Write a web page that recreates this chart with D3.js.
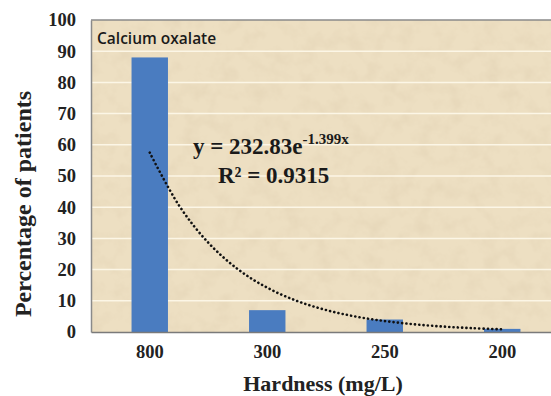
<!DOCTYPE html>
<html>
<head>
<meta charset="utf-8">
<script src="https://cdn.jsdelivr.net/npm/d3@7"></script>
<style>
  body { margin: 0; background: #fff; }
  svg { display: block; }
</style>
</head>
<body>
<div id="chart"></div>
<script>
// data
const categories = ["800", "300", "250", "200"];
const percentages = [88, 7, 4, 1];
const yTicks = [0, 10, 20, 30, 40, 50, 60, 70, 80, 90, 100];
// trendline given on the chart: y = 232.83 e^(-1.399x)
const trendA = 232.83;
const trendB = -1.399;
const trendX = [1, 1.25, 1.5, 1.75, 2, 2.25, 2.5, 2.75, 3, 3.25, 3.5, 3.75, 4];

function drawChart() {
    const W = 551, H = 396;
    const left = 91, top = 20, right = 561, bottom = 332;

    const svg = d3.select("#chart")
        .append("svg")
        .attr("width", W)
        .attr("height", H);

    // paper texture for the plot area
    const defs = svg.append("defs");
    const f = defs.append("filter").attr("id", "paper")
        .attr("x", 0).attr("y", 0).attr("width", 1).attr("height", 1);
    f.append("feTurbulence")
        .attr("type", "fractalNoise")
        .attr("baseFrequency", "0.06")
        .attr("numOctaves", 4)
        .attr("seed", 7);
    f.append("feColorMatrix")
        .attr("type", "matrix")
        .attr("values", "0 0 0 0 0.7  0 0 0 0 0.58  0 0 0 0 0.4  0.7 0 0 0 -0.3");
    defs.append("clipPath").attr("id", "plotClip")
        .append("rect")
        .attr("x", left).attr("y", top)
        .attr("width", right - left).attr("height", bottom - top);

    const x = d3.scaleBand()
        .domain(categories)
        .range([left, right])
        .paddingInner(0.69)
        .paddingOuter(0.345);

    const y = d3.scaleLinear()
        .domain([0, 100])
        .range([bottom, top]);

    // trendline x (1..4) sits on band centres
    const xt = d3.scaleLinear()
        .domain([1, categories.length])
        .range([x(categories[0]) + x.bandwidth() / 2,
                x(categories[categories.length - 1]) + x.bandwidth() / 2]);

    const plot = svg.append("g").attr("clip-path", "url(#plotClip)");
    plot.append("rect")
        .attr("x", left).attr("y", top)
        .attr("width", right - left).attr("height", bottom - top)
        .attr("fill", "#eddfc2");
    plot.append("rect")
        .attr("x", left).attr("y", top)
        .attr("width", right - left).attr("height", bottom - top)
        .attr("filter", "url(#paper)");

    // gridlines
    plot.selectAll(".grid")
        .data(yTicks.filter(d => d > 0 && d < 100))
        .enter()
        .append("line")
        .attr("x1", left).attr("x2", right)
        .attr("y1", d => y(d)).attr("y2", d => y(d))
        .attr("stroke", "#fcf6e6")
        .attr("stroke-width", 1.5);

    // bars
    plot.selectAll(".bar")
        .data(percentages)
        .enter()
        .append("rect")
        .attr("class", "bar")
        .attr("x", (d, i) => x(categories[i]))
        .attr("y", d => y(d))
        .attr("width", x.bandwidth())
        .attr("height", d => bottom - y(d))
        .attr("fill", "#4a7cc0");

    // dotted exponential trendline
    const line = d3.line()
        .x(d => xt(d))
        .y(d => y(trendA * Math.exp(trendB * d)))
        .curve(d3.curveCatmullRom);
    plot.append("path")
        .datum(trendX)
        .attr("d", line)
        .attr("fill", "none")
        .attr("stroke", "#111")
        .attr("stroke-width", 2.6)
        .attr("stroke-linecap", "round")
        .attr("stroke-dasharray", "0.1,4.2");

    // frame lines
    svg.append("line")
        .attr("x1", left).attr("x2", W).attr("y1", top).attr("y2", top)
        .attr("stroke", "#8a8a8a").attr("stroke-width", 1.5);

    const serif = "Liberation Serif, Times New Roman, serif";

    // y axis
    const axisY = d3.axisLeft(y).tickValues(yTicks).tickSize(0).tickPadding(15);
    const gy = svg.append("g")
        .attr("transform", `translate(${left},0)`)
        .call(axisY);
    gy.select(".domain").attr("stroke", "#8a8a8a").attr("stroke-width", 1.5);
    gy.selectAll("text")
        .attr("font-family", serif)
        .attr("font-weight", "bold")
        .attr("font-size", 18.5)
        .attr("fill", "#222");

    // x axis
    const axisX = d3.axisBottom(x).tickSize(0).tickPadding(13);
    const gx = svg.append("g")
        .attr("transform", `translate(0,${bottom})`)
        .call(axisX);
    gx.select(".domain").attr("stroke", "#7a7a7a").attr("stroke-width", 1.5);
    gx.selectAll("text")
        .attr("font-family", serif)
        .attr("font-weight", "bold")
        .attr("font-size", 18.5)
        .attr("fill", "#222");

    // titles
    svg.append("text")
        .attr("x", 323).attr("y", 391)
        .attr("text-anchor", "middle")
        .attr("font-family", serif)
        .attr("font-weight", "bold")
        .attr("font-size", 22)
        .attr("fill", "#222")
        .text("Hardness (mg/L)");

    svg.append("text")
        .attr("transform", "translate(31,204) rotate(-90)")
        .attr("text-anchor", "middle")
        .attr("font-family", serif)
        .attr("font-weight", "bold")
        .attr("font-size", 24)
        .attr("fill", "#222")
        .text("Percentage of patients");

    svg.append("text")
        .attr("x", 97).attr("y", 44)
        .attr("font-family", "Open Sans, sans-serif")
        .attr("font-weight", 600)
        .attr("font-size", 15.5)
        .attr("fill", "#1a1a1a")
        .text("Calcium oxalate");

    // trendline equation
    const eq = svg.append("text")
        .attr("x", 193).attr("y", 154)
        .attr("font-family", serif)
        .attr("font-weight", "bold")
        .attr("font-size", 23)
        .attr("fill", "#1a1a1a");
    eq.append("tspan").text("y = " + trendA + "e");
    eq.append("tspan")
        .attr("dy", -10).attr("font-size", 15)
        .text(trendB + "x");

    svg.append("text")
        .attr("x", 218).attr("y", 183)
        .attr("font-family", serif)
        .attr("font-weight", "bold")
        .attr("font-size", 23)
        .attr("fill", "#1a1a1a")
        .text("R² = 0.9315");
}

drawChart();
</script>
</body>
</html>
